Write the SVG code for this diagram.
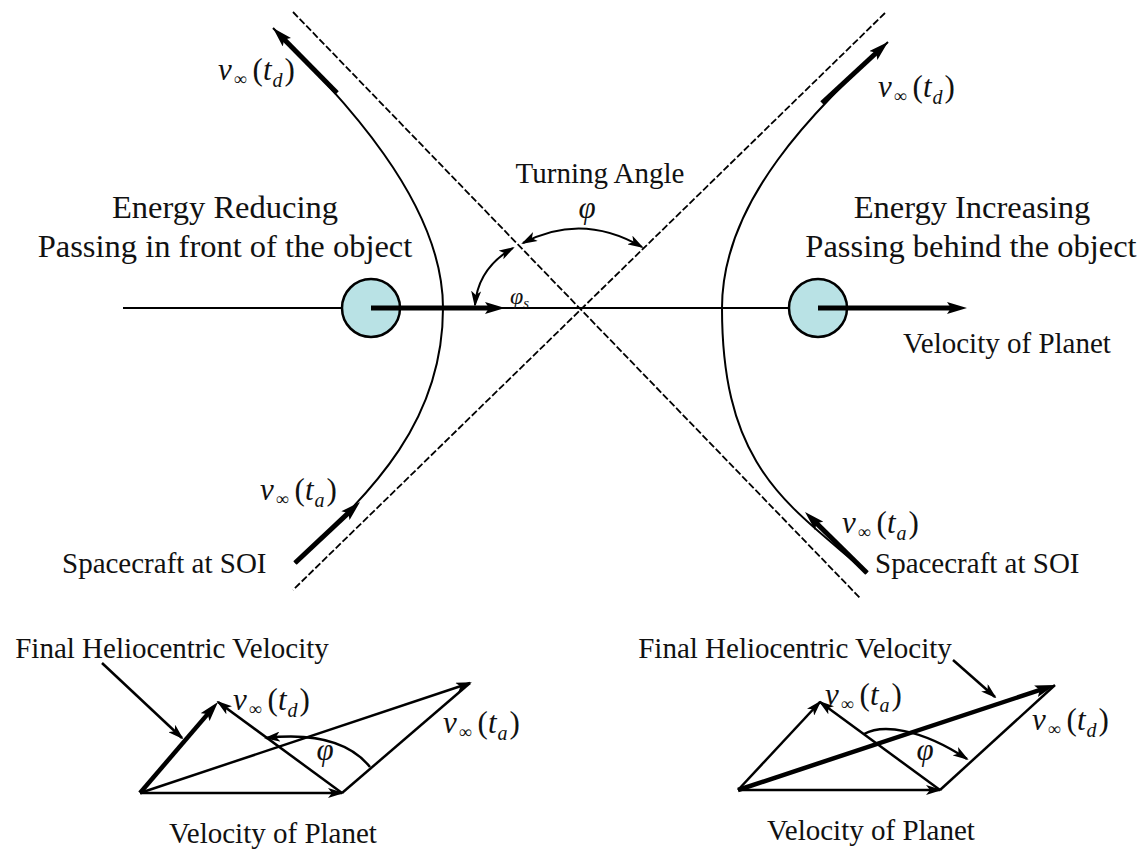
<svg xmlns="http://www.w3.org/2000/svg" width="1147" height="850" viewBox="0 0 1147 850">
<style>
text{font-family:"Liberation Serif","Times New Roman",serif;fill:#111}
.t32{font-size:32.5px}
.t29{font-size:29px}
.m{font-size:31px}
.i{font-style:italic}
.ln{stroke:#000;stroke-width:2;fill:none}
.thk{stroke:#000;stroke-width:5;fill:none}
.dash{stroke:#000;stroke-width:1.8;fill:none;stroke-dasharray:7 2.5}
.vec{stroke:#000;stroke-width:2.5;fill:none}
.vthk{stroke:#000;stroke-width:4.5;fill:none}
.planet{fill:#b9e2e5;stroke:#000;stroke-width:2.5}
</style>
<defs>
<marker id="ah" viewBox="0 0 16 10" refX="14" refY="5" markerWidth="16" markerHeight="10" markerUnits="userSpaceOnUse" orient="auto-start-reverse"><path d="M0,0 L16,5 L0,10 L4,5 z" fill="#000"/></marker>
<marker id="ahT" viewBox="0 0 20 12" refX="6" refY="6" markerWidth="20" markerHeight="12" markerUnits="userSpaceOnUse" orient="auto"><path d="M0,0 L20,6 L0,12 L4,6 z" fill="#000"/></marker>
</defs>

<g id="asymptotes">
<line class="dash" x1="293" y1="12" x2="860" y2="598"/>
<line class="dash" x1="885" y1="13" x2="293" y2="590"/>
</g>

<g id="axis">
<line class="ln" x1="123" y1="308" x2="960" y2="308"/>
</g>

<g id="planet-left">
<circle class="planet" cx="371" cy="308" r="29"/>
</g>
<g id="planet-right">
<circle class="planet" cx="818" cy="308" r="29"/>
</g>

<g id="hyperbola-left">
<path class="ln" d="M273,28 C340,96 443,200 443,308 C443,420 375,490 295,563"/>
</g>
<g id="hyperbola-right">
<path class="ln" d="M888,42 C815,110 722,200 722,308 C722,470 790,505 867,573"/>
</g>

<g id="connectors">
<line class="thk" x1="337" y1="93" x2="282.8" y2="38" marker-end="url(#ahT)"/>
<line class="thk" x1="822" y1="103" x2="877.7" y2="51.5" marker-end="url(#ahT)"/>
<line class="thk" x1="295" y1="563" x2="349.8" y2="511.6" marker-end="url(#ahT)"/>
<line class="thk" x1="867" y1="573" x2="815" y2="521.8" marker-end="url(#ahT)"/>
<line class="thk" x1="371" y1="308" x2="491" y2="308" marker-end="url(#ahT)"/>
<line class="thk" x1="818" y1="308" x2="953" y2="308" marker-end="url(#ahT)"/>
<path class="ln" d="M523,243 Q582,212 642,247" marker-start="url(#ah)" marker-end="url(#ah)"/>
<path class="ln" d="M513,248 Q478,268 475,305" marker-start="url(#ah)" marker-end="url(#ah)"/>
</g>

<g id="labels-main">
<text class="t32" x="225" y="218" text-anchor="middle">Energy Reducing</text>
<text class="t32" x="225" y="257" text-anchor="middle">Passing in front of the object</text>
<text class="t32" x="972" y="218" text-anchor="middle">Energy Increasing</text>
<text class="t32" x="971" y="257" text-anchor="middle">Passing behind the object</text>
<text class="t29" x="600" y="183" text-anchor="middle">Turning Angle</text>
<text class="m i" x="587" y="218" text-anchor="middle">φ</text>
<text class="i" x="510" y="304" font-size="24">φ<tspan font-size="15" dy="4">s</tspan></text>
<text class="t29" x="1007" y="353" text-anchor="middle">Velocity of Planet</text>
<text class="t29" x="62" y="573">Spacecraft at SOI</text>
<text class="t29" x="875" y="573">Spacecraft at SOI</text>
<text class="m" x="218" y="80"><tspan class="i">v</tspan><tspan font-size="18" dx="2" dy="5">∞</tspan><tspan dx="6" dy="-5">(</tspan><tspan class="i">t</tspan><tspan class="i" font-size="20" dx="1" dy="7">d</tspan><tspan dx="2" dy="-7">)</tspan></text>
<text class="m" x="878" y="97"><tspan class="i">v</tspan><tspan font-size="18" dx="2" dy="5">∞</tspan><tspan dx="6" dy="-5">(</tspan><tspan class="i">t</tspan><tspan class="i" font-size="20" dx="1" dy="7">d</tspan><tspan dx="2" dy="-7">)</tspan></text>
<text class="m" x="260" y="500"><tspan class="i">v</tspan><tspan font-size="18" dx="2" dy="5">∞</tspan><tspan dx="6" dy="-5">(</tspan><tspan class="i">t</tspan><tspan class="i" font-size="20" dx="1" dy="7">a</tspan><tspan dx="2" dy="-7">)</tspan></text>
<text class="m" x="842" y="533"><tspan class="i">v</tspan><tspan font-size="18" dx="2" dy="5">∞</tspan><tspan dx="6" dy="-5">(</tspan><tspan class="i">t</tspan><tspan class="i" font-size="20" dx="1" dy="7">a</tspan><tspan dx="2" dy="-7">)</tspan></text>
</g>

<g id="vector-left">
<line class="vec" x1="102" y1="663" x2="182" y2="738" marker-end="url(#ah)"/>
<line class="vec" x1="140" y1="793" x2="342" y2="793" marker-end="url(#ah)"/>
<line class="vec" x1="140" y1="793" x2="470" y2="683" marker-end="url(#ah)"/>
<line class="vec" x1="342" y1="793" x2="218" y2="702" marker-end="url(#ah)"/>
<line class="vec" x1="342" y1="793" x2="470" y2="683"/>
<line class="vthk" x1="140" y1="793" x2="208.9" y2="712.6" marker-end="url(#ahT)"/>
<path class="vec" d="M370,767 Q340,730 266,738" marker-end="url(#ah)"/>
<text class="m i" x="325" y="760" text-anchor="middle">φ</text>
<text class="t29" x="172" y="658" text-anchor="middle">Final Heliocentric Velocity</text>
<text class="t29" x="273" y="843" text-anchor="middle" font-size="29.5">Velocity of Planet</text>
<text class="m" x="233" y="710"><tspan class="i">v</tspan><tspan font-size="18" dx="2" dy="5">∞</tspan><tspan dx="6" dy="-5">(</tspan><tspan class="i">t</tspan><tspan class="i" font-size="20" dx="1" dy="7">d</tspan><tspan dx="2" dy="-7">)</tspan></text>
<text class="m" x="443" y="733"><tspan class="i">v</tspan><tspan font-size="18" dx="2" dy="5">∞</tspan><tspan dx="6" dy="-5">(</tspan><tspan class="i">t</tspan><tspan class="i" font-size="20" dx="1" dy="7">a</tspan><tspan dx="2" dy="-7">)</tspan></text>
</g>

<g id="vector-right">
<line class="vec" x1="953" y1="660" x2="995" y2="697" marker-end="url(#ah)"/>
<line class="vec" x1="738" y1="790" x2="940" y2="790" marker-end="url(#ah)"/>
<line class="vec" x1="738" y1="790" x2="820" y2="702" marker-end="url(#ah)"/>
<line class="vec" x1="940" y1="790" x2="820" y2="702" marker-end="url(#ah)"/>
<line class="vec" x1="940" y1="790" x2="1055" y2="685"/>
<line class="vthk" x1="738" y1="790" x2="1041.7" y2="689.4" marker-end="url(#ahT)"/>
<path class="vec" d="M864,734 C882,724 920,728 967,759" marker-end="url(#ah)"/>
<text class="m i" x="925" y="760" text-anchor="middle">φ</text>
<text class="t29" x="795" y="658" text-anchor="middle">Final Heliocentric Velocity</text>
<text class="t29" x="871" y="840" text-anchor="middle" font-size="29.5">Velocity of Planet</text>
<text class="m" x="825" y="705"><tspan class="i">v</tspan><tspan font-size="18" dx="2" dy="5">∞</tspan><tspan dx="6" dy="-5">(</tspan><tspan class="i">t</tspan><tspan class="i" font-size="20" dx="1" dy="7">a</tspan><tspan dx="2" dy="-7">)</tspan></text>
<text class="m" x="1032" y="730"><tspan class="i">v</tspan><tspan font-size="18" dx="2" dy="5">∞</tspan><tspan dx="6" dy="-5">(</tspan><tspan class="i">t</tspan><tspan class="i" font-size="20" dx="1" dy="7">d</tspan><tspan dx="2" dy="-7">)</tspan></text>
</g>
</svg>
